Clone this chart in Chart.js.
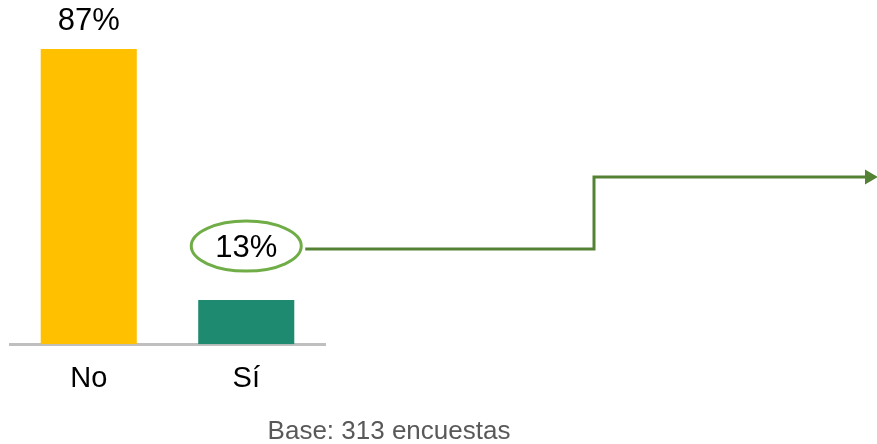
<!DOCTYPE html>
<html>
<head>
<meta charset="utf-8">
<script src="https://cdn.jsdelivr.net/npm/chart.js@4/dist/chart.umd.min.js"></script>
<style>
html,body{margin:0;padding:0;background:#fff;}
#wrap{width:877px;height:444px;position:relative;}
</style>
</head>
<body>
<div id="wrap"><canvas id="c" width="877" height="444"></canvas></div>
<script>
const categories = ["No", "Sí"];
const values = [87, 13];
const valueLabels = ["87%", "13%"];
const barColors = ["#FFC000", "#1E8B70"];
const highlightIndex = 1;
const baseNote = "Base: 313 encuestas";

const FONT = "'Liberation Sans', Arial, sans-serif";

const overlay = {
  id: 'overlay',
  afterDatasetsDraw(chart) {
    const ctx = chart.ctx;
    const meta = chart.getDatasetMeta(0);
    ctx.save();
    ctx.font = "31px " + FONT;
    ctx.fillStyle = "#000";
    ctx.textAlign = "center";
    ctx.textBaseline = "middle";
    meta.data.forEach((bar, i) => {
      const off = (i === highlightIndex) ? 52 : 28;
      ctx.fillText(valueLabels[i], bar.x, bar.y - off);
    });
    // highlight oval + arrow
    const hb = meta.data[highlightIndex];
    const cx = hb.x, cy = hb.y - 54;
    const rx = 55, ry = 25;
    ctx.lineWidth = 3;
    ctx.strokeStyle = "#70AD47";
    ctx.beginPath();
    ctx.ellipse(cx, cy, rx, ry, 0, 0, Math.PI * 2);
    ctx.stroke();
    const ly = cy + 3;
    const x0 = cx + rx + 4;
    const xTurn = 594;
    const yTop = 177;
    const xEnd = 866;
    ctx.strokeStyle = "#548235";
    ctx.lineWidth = 3;
    ctx.lineJoin = "miter";
    ctx.beginPath();
    ctx.moveTo(x0, ly);
    ctx.lineTo(xTurn, ly);
    ctx.lineTo(xTurn, yTop);
    ctx.lineTo(xEnd, yTop);
    ctx.stroke();
    ctx.fillStyle = "#548235";
    ctx.beginPath();
    ctx.moveTo(xEnd - 1, yTop - 7.5);
    ctx.lineTo(878, yTop);
    ctx.lineTo(xEnd - 1, yTop + 7.5);
    ctx.closePath();
    ctx.fill();
    // base note
    ctx.font = "26px " + FONT;
    ctx.fillStyle = "#595959";
    ctx.textAlign = "center";
    ctx.textBaseline = "middle";
    ctx.fillText(baseNote, 389, 432);
    ctx.restore();
  }
};

new Chart(document.getElementById('c'), {
  type: 'bar',
  data: {
    labels: categories,
    datasets: [{
      data: values,
      backgroundColor: barColors,
      borderWidth: 0,
      barPercentage: 0.61,
      categoryPercentage: 1.0
    }]
  },
  options: {
    responsive: false,
    animation: false,
    devicePixelRatio: 1,
    layout: { padding: { left: 10, right: 552, top: 5, bottom: 31 } },
    plugins: { legend: { display: false }, tooltip: { enabled: false }, title: { display: false } },
    scales: {
      x: {
        grid: { display: false, drawTicks: false },
        border: { display: true, color: "#BFBFBF", width: 3 },
        ticks: { color: "#000", font: { family: FONT, size: 29 }, padding: 17, maxRotation: 0 }
      },
      y: {
        display: false,
        min: 0,
        max: 100
      }
    }
  },
  plugins: [overlay]
});
</script>
</body>
</html>
